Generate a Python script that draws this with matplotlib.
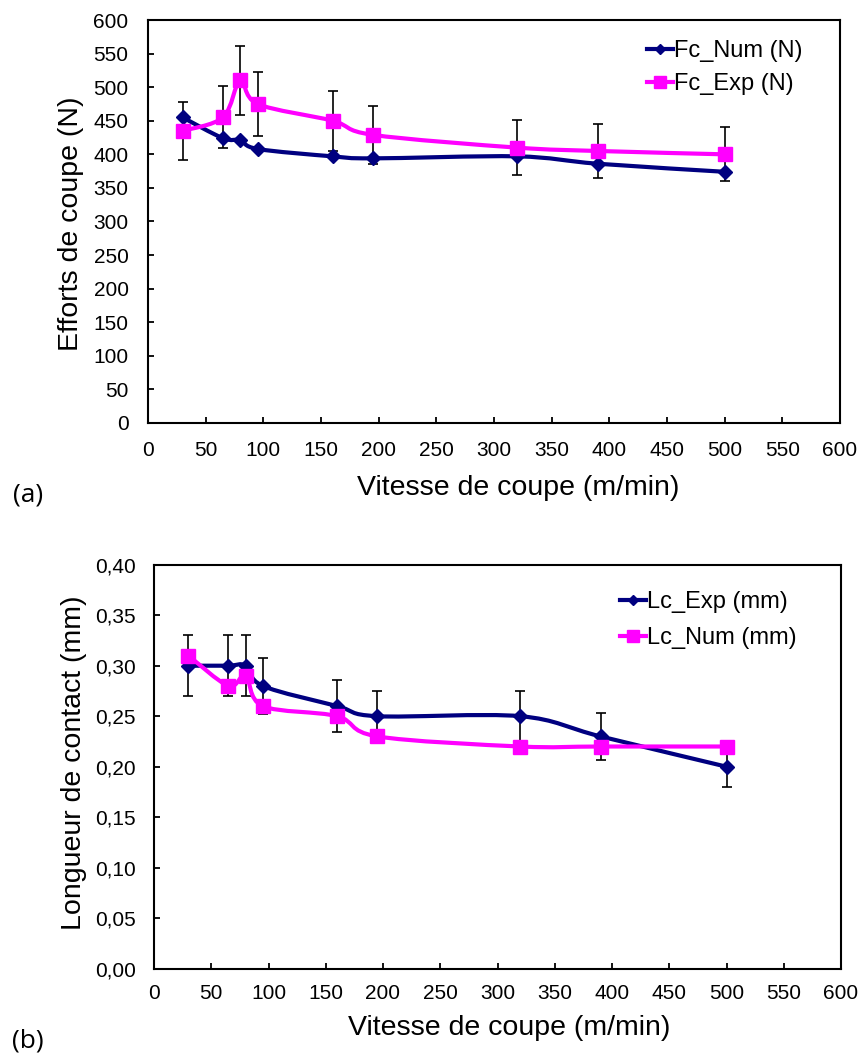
"""
Efforts de coupe et longueur de contact en fonction de la vitesse de coupe.
Two stacked panels, (a) forces, (b) contact length, Excel-style smoothed lines.
"""

import numpy as np
import matplotlib
matplotlib.use("Agg")
import matplotlib.pyplot as plt
import matplotlib.ticker as mtick
from matplotlib.path import Path
from matplotlib.patches import PathPatch
from matplotlib.lines import Line2D

plt.rcParams["font.family"] = ["Liberation Sans", "DejaVu Sans"]

# --- data -------------------------------------------------------------------
vitesse = [30, 65, 80, 95, 160, 195, 320, 390, 500]

fc_num = [455, 424, 421, 408, 397, 394, 397, 386, 374]
fc_exp = [435, 455, 510, 475, 450, 429, 410, 405, 400]
fc_exp_err = [43, 46, 51, 48, 45, 43, 41, 40, 40]

lc_exp = [0.30, 0.30, 0.30, 0.28, 0.26, 0.25, 0.25, 0.23, 0.20]
lc_exp_err = [0.030, 0.030, 0.030, 0.028, 0.026, 0.025, 0.025, 0.023, 0.020]
lc_num = [0.31, 0.28, 0.29, 0.26, 0.25, 0.23, 0.22, 0.22, 0.22]

x_ticks = list(range(0, 601, 50))
fc_ticks = list(range(0, 601, 50))
lc_ticks = [0.00, 0.05, 0.10, 0.15, 0.20, 0.25, 0.30, 0.35, 0.40]

NAVY = "#000080"
MAGENTA = "#FF00FF"
W, H = 861, 1057


def smooth_path(x, y):
    """Catmull-Rom style bezier through the points (like Excel 'smoothed line')."""
    x = np.asarray(x, float)
    y = np.asarray(y, float)
    px = np.concatenate([[x[0]], x, [x[-1]]])
    py = np.concatenate([[y[0]], y, [y[-1]]])
    verts = [(x[0], y[0])]
    codes = [Path.MOVETO]
    for i in range(1, len(px) - 2):
        c1 = (px[i] + (px[i + 1] - px[i - 1]) / 6, py[i] + (py[i + 1] - py[i - 1]) / 6)
        c2 = (px[i + 1] - (px[i + 2] - px[i]) / 6, py[i + 1] - (py[i + 2] - py[i]) / 6)
        verts += [c1, c2, (px[i + 1], py[i + 1])]
        codes += [Path.CURVE4] * 3
    return Path(verts, codes)


def draw_series(ax, x, y, color, marker, ms, lw, z):
    ax.add_patch(PathPatch(smooth_path(x, y), fill=False, edgecolor=color,
                           lw=lw, zorder=z, capstyle="round", joinstyle="round"))
    ax.plot(x, y, ls="none", marker=marker, ms=ms, color=color,
            mec=color, zorder=z + 0.5)
    return Line2D([], [], color=color, lw=lw, marker=marker, ms=ms * 0.8)


def style_axes(ax, xpad, ypad):
    for sp in ax.spines.values():
        sp.set_linewidth(1.5)
        sp.set_color("black")
    ax.tick_params(direction="in", length=4.5, width=1.3, labelsize=15,
                   top=False, right=False)
    ax.tick_params(axis="x", pad=xpad)
    ax.tick_params(axis="y", pad=ypad)
    ax.set_xlim(0, 600)
    ax.set_xticks(x_ticks)


fig = plt.figure(figsize=(W / 100, H / 100), dpi=100)

# --- (a) cutting forces -----------------------------------------------------
ax1 = fig.add_axes([148 / W, 1 - 423 / H, 692 / W, 403 / H])
style_axes(ax1, 13, 14)
ax1.set_ylim(0, 600)
ax1.set_yticks(fc_ticks)

ax1.errorbar(vitesse, fc_exp, yerr=fc_exp_err, fmt="none", ecolor="black",
             elinewidth=1.2, capsize=3.5, capthick=1.2, zorder=2)
h1 = draw_series(ax1, vitesse, fc_num, NAVY, "D", 7, 3, 3)
h2 = draw_series(ax1, vitesse, fc_exp, MAGENTA, "s", 10, 3, 4)

ax1.set_ylabel("Efforts de coupe (N)", fontsize=20.5)
ax1.yaxis.set_label_coords(-0.092, 0.494)
ax1.set_xlabel("Vitesse de coupe (m/min)", fontsize=20.5, va="top")
ax1.xaxis.set_label_coords(0.535, -0.128)
ax1.legend([h1, h2], ["Fc_Num (N)", "Fc_Exp (N)"], loc="upper left",
           bbox_to_anchor=(0.721, 0.95), frameon=False, fontsize=17,
           borderpad=0, borderaxespad=0, handlelength=1.1, handletextpad=0.05,
           labelspacing=0.45)

# --- (b) contact length -----------------------------------------------------
ax2 = fig.add_axes([154 / W, 1 - 968.7 / H, 687 / W, 404 / H])
style_axes(ax2, 11, 13)
ax2.set_ylim(0, 0.40)
ax2.set_yticks(lc_ticks)
ax2.yaxis.set_major_formatter(
    mtick.FuncFormatter(lambda v, _: f"{v:.2f}".replace(".", ",")))

ax2.errorbar(vitesse, lc_exp, yerr=lc_exp_err, fmt="none", ecolor="black",
             elinewidth=1.2, capsize=3.5, capthick=1.2, zorder=2)
h3 = draw_series(ax2, vitesse, lc_exp, NAVY, "D", 7, 3, 3)
h4 = draw_series(ax2, vitesse, lc_num, MAGENTA, "s", 10, 3, 4)

ax2.set_ylabel("Longueur de contact (mm)", fontsize=20.5)
ax2.yaxis.set_label_coords(-0.098, 0.51)
ax2.set_xlabel("Vitesse de coupe (m/min)", fontsize=20.5, va="top")
ax2.xaxis.set_label_coords(0.517, -0.115)
ax2.legend([h3, h4], ["Lc_Exp (mm)", "Lc_Num (mm)"], loc="upper left",
           bbox_to_anchor=(0.678, 0.935), frameon=False, fontsize=17,
           borderpad=0, borderaxespad=0, handlelength=1.1, handletextpad=0.05,
           labelspacing=0.6)

# panel tags
fig.text(28 / W, 1 - 495 / H, "(a)", ha="center", va="center", fontsize=19,
         family=["Open Sans", "DejaVu Sans"])
fig.text(28 / W, 1 - 1041 / H, "(b)", ha="center", va="center", fontsize=19,
         family=["Open Sans", "DejaVu Sans"])

fig.savefig("out.png", dpi=100)
